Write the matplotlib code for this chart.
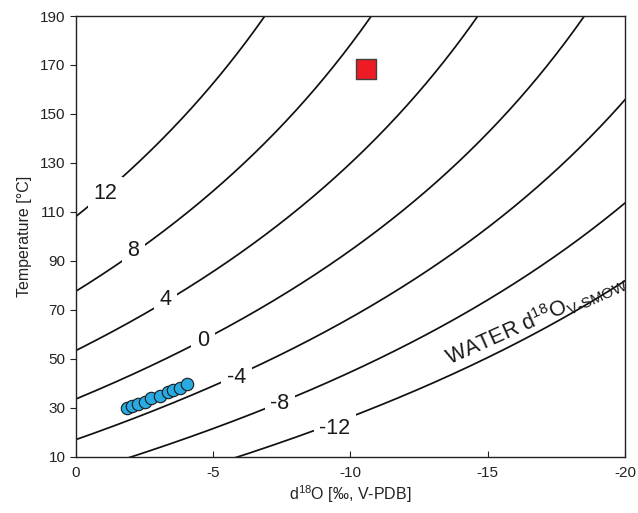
import numpy as np
import matplotlib
matplotlib.use("Agg")
import matplotlib.pyplot as plt

plt.rcParams['font.family'] = ['Liberation Sans', 'DejaVu Sans']
plt.rcParams['mathtext.fontset'] = 'custom'
plt.rcParams['mathtext.rm'] = 'Liberation Sans'
plt.rcParams['mathtext.it'] = 'Liberation Sans:italic'

# water d18O (V-SMOW) isolines
agua_niveles = [12, 8, 4, 0, -4, -8, -12]
etiqueta_x = [-1.06, -2.08, -3.27, -4.63, -5.85, -7.43, -9.43]
etiqueta_y = [117.7, 94.4, 74.4, 57.4, 42.3, 31.8, 21.6]

# carbonate-water fractionation, 1000 ln a = A*10^6/T^2 + B
frac_A = 3.2
frac_B = -3.1

# muestras
muestras_x = [-1.85, -2.03, -2.27, -2.51, -2.73, -3.06, -3.37, -3.53, -3.79, -4.03]
muestras_t = [30.0, 30.6, 31.4, 32.3, 33.9, 34.9, 36.3, 37.2, 38.2, 39.7]
punto_rojo_x = [-10.58]
punto_rojo_t = [168.4]


def d18o_carbonato_vpdb(agua, temp_c):
    tk = temp_c + 273.15
    d_smow = agua + frac_A * 1e6 / tk**2 + frac_B
    return (d_smow - 30.91) / 1.03091


fig = plt.figure(figsize=(6.38, 5.13), dpi=100)
ax = fig.add_axes([0.1191, 0.1097, 0.8605, 0.8591])

temps = np.linspace(0, 200, 500)
for nivel, lx, ly in zip(agua_niveles, etiqueta_x, etiqueta_y):
    ax.plot(d18o_carbonato_vpdb(nivel, temps), temps, color='#111111', lw=1.25, zorder=1)
    ax.text(lx, ly, str(nivel), fontsize=15.5, ha='center', va='center', zorder=2,
            color='#1a1a1a', bbox=dict(facecolor='white', edgecolor='none', pad=4))

ax.scatter(muestras_x, muestras_t, s=80, color='#29aae1', edgecolor='#1a1a1a',
           linewidth=0.8, zorder=3)
ax.scatter(punto_rojo_x, punto_rojo_t, s=190, marker='s', color='#ed1c24',
           edgecolor='#404040', linewidth=1.0, zorder=3)

ax.text(-16.85, 63.5, r'WATER d$^{18}$O$_{\mathrm{V\text{-}SMOW}}$', fontsize=15.5,
        rotation=24, rotation_mode='anchor', ha='center', va='baseline', zorder=2,
        color='#1a1a1a')

ax.set_xlim(0, -20)
ax.set_ylim(10, 190)
ax.set_xticks([0, -5, -10, -15, -20])
ax.set_xticklabels(['0', '-5', '-10', '-15', '-20'])
ax.set_yticks(np.arange(10, 191, 20))
ax.tick_params(axis='x', direction='in', length=4, labelsize=11, colors='#222222', pad=7)
ax.tick_params(axis='y', direction='out', length=4, labelsize=11, colors='#222222')
ax.set_xlabel(r'd$^{18}$O [‰, V-PDB]', fontsize=11.5, color='#222222', labelpad=2)
ax.set_ylabel('Temperature [°C]', fontsize=11.5, color='#222222', labelpad=6)
for sp in ax.spines.values():
    sp.set_color('#222222')
    sp.set_linewidth(1.0)

fig.savefig('out.png', dpi=100)
